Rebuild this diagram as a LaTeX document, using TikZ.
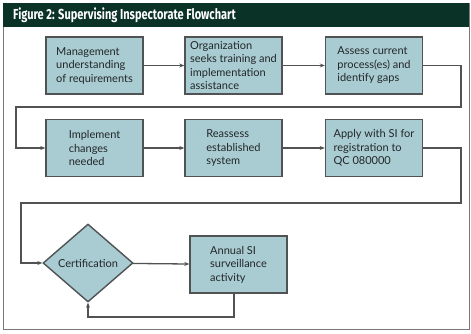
\documentclass[tikz,border=0pt]{standalone}
\usepackage{fontspec}
\setmainfont{Lato}
\newfontfamily\titlefont[FakeStretch=0.76]{Fira Sans}
\usetikzlibrary{shapes.geometric,arrows.meta}
\definecolor{boxfill}{RGB}{168,204,210}
\definecolor{linegray}{RGB}{80,82,84}
\definecolor{framegray}{RGB}{120,120,120}
\definecolor{titlegreen}{RGB}{10,50,38}
\definecolor{textgray}{RGB}{35,38,40}
\tikzset{
  stepbox/.style={draw=linegray, fill=boxfill, line width=1.4pt, minimum width=97pt,
    minimum height=57pt, inner sep=0pt, align=left, text=textgray,
    font=\fontsize{11}{13.5}\selectfont},
  decision/.style={diamond, draw=linegray, fill=boxfill, line width=1.4pt,
    minimum width=90pt, minimum height=78pt, inner sep=0pt, text=textgray,
    font=\fontsize{11}{13.5}\selectfont},
  flow/.style={draw=linegray, line width=1.3pt, -{Stealth[length=5pt,width=4pt]}}
}

\begin{document}
\begin{tikzpicture}[x=1pt,y=-1pt]
\useasboundingbox (0,0) rectangle (471,333);
% frame and title bar
\draw[framegray, line width=1pt] (3,3) rectangle (469,329);
\fill[titlegreen] (3,3) rectangle (469,27);
\node[anchor=west, text=white, inner sep=0pt, font=\titlefont\bfseries\fontsize{14.5}{16}\selectfont] (title) at (13,15) {Figure 2: Supervising Inspectorate Flowchart};
% first row
\node[stepbox] (mgmt) at (94.5,65.5) {Management\\understanding\\of requirements};
\node[stepbox] (org) at (233.5,65.5) {Organization\\seeks training and\\implementation\\assistance};
\node[stepbox] (assess) at (374,65.5) {Assess current\\process(es) and\\identify gaps};
% second row
\node[stepbox] (impl) at (94.5,148) {Implement\\changes\\needed};
\node[stepbox] (reassess) at (233.5,148) {Reassess\\established\\system};
\node[stepbox] (apply) at (374,148) {Apply with SI for\\registration to\\QC 080000};
% third row
\node[decision] (cert) at (88,263) {Certification};
\node[stepbox] (annual) at (238.5,264.5) {Annual SI\\surveillance\\activity};
% turning points
\coordinate (r1) at (461,107);
\coordinate (l1) at (16,107);
\coordinate (r2) at (461,203);
\coordinate (l2) at (21,203);
\coordinate (b1) at (234,317);
% connectors
\draw[flow] (mgmt) -- (org);
\draw[flow] (org) -- (assess);
\draw[flow] (assess.east) -| (r1) -- (l1) |- (impl.west);
\draw[flow] (impl) -- (reassess);
\draw[flow] (reassess) -- (apply);
\draw[flow] (apply.east) -| (r2) -- (l2) |- (cert.west);
\draw[flow] (cert) -- (annual);
\draw[flow] (annual.south -| b1) -- (b1) -| (cert.south);
\end{tikzpicture}
\end{document}
